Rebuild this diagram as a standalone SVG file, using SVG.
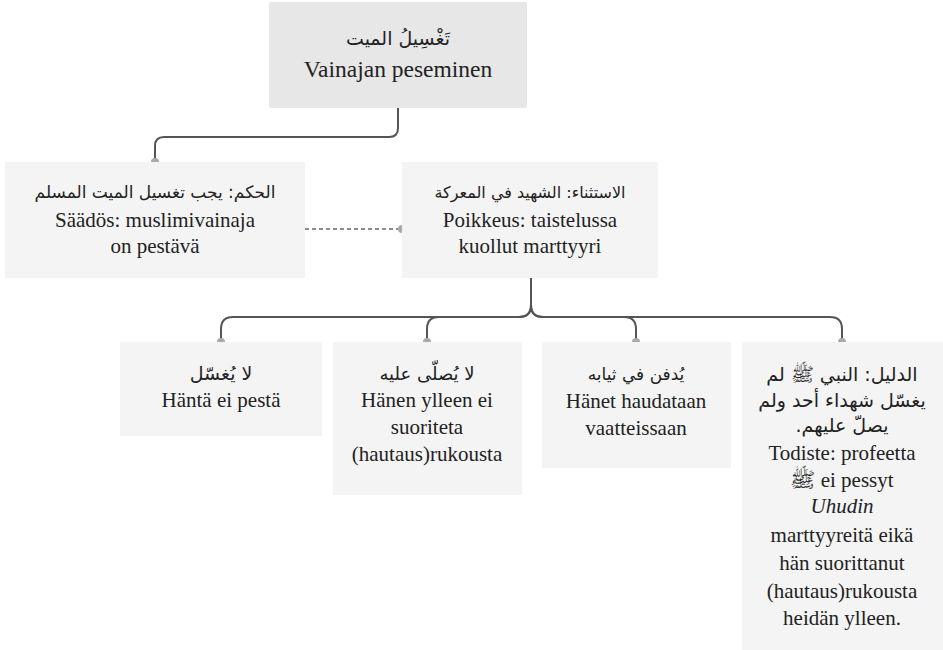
<svg xmlns="http://www.w3.org/2000/svg" width="943" height="650" viewBox="0 0 943 650">
<style>
.root{fill:#e7e7e7}
.box{fill:#f4f4f4}
.t{font-family:'Liberation Serif','Times New Roman',Times,serif;font-size:21px;fill:#222;text-anchor:middle}
.ar{font-family:'DejaVu Sans',sans-serif;font-size:17px;fill:#222;text-anchor:middle;direction:rtl;unicode-bidi:embed}
.ar3{font-size:18px}
.ar4{font-size:19px}
.tr{font-size:23.5px}
.it{font-style:italic}
.c{fill:none;stroke:#555;stroke-width:2}
.dot{fill:#aaa}
</style>
<rect width="943" height="650" fill="#fff"/>
<g id="connectors">
<path class="c" d="M398,108 V128 Q398,137 389,137 H164 Q155,137 155,146 V162"/>
<path class="c" d="M305,229 H398" stroke-dasharray="4,3" style="stroke-width:1.3;stroke:#666"/>
<path class="c" d="M531,278 V305 Q531,317 519,317 H233 Q221,317 221,329 V342"/>
<path class="c" d="M531,278 V305 Q531,317 519,317 H439 Q427,317 427,329 V342"/>
<path class="c" d="M531,278 V305 Q531,317 543,317 H624 Q636,317 636,329 V342"/>
<path class="c" d="M531,278 V305 Q531,317 543,317 H830 Q842,317 842,329 V342"/>
<circle class="dot" cx="155" cy="162" r="4"/>
<circle class="dot" cx="402" cy="229" r="4"/>
<circle class="dot" cx="221" cy="342" r="4"/>
<circle class="dot" cx="427" cy="342" r="4"/>
<circle class="dot" cx="636" cy="342" r="4"/>
<circle class="dot" cx="842" cy="342" r="4"/>
</g>
<g id="root">
<rect class="root" x="269" y="2" width="258" height="106" rx="2"/>
<text class="ar" x="398" y="45" style="font-size:19px">تَغْسِيلُ الميت</text>
<text class="t tr" x="398" y="77">Vainajan peseminen</text>
</g>
<g id="ruling">
<rect class="box" x="5" y="162" width="300" height="116"/>
<text class="ar" x="155" y="198">الحكم: يجب تغسيل الميت المسلم</text>
<text class="t" x="155" y="227">Säädös: muslimivainaja</text>
<text class="t" x="155" y="253">on pestävä</text>
</g>
<g id="exception">
<rect class="box" x="402" y="162" width="256" height="116"/>
<text class="ar" x="530" y="198" style="font-size:16px">الاستثناء: الشهيد في المعركة</text>
<text class="t" x="530" y="227">Poikkeus: taistelussa</text>
<text class="t" x="530" y="253">kuollut marttyyri</text>
</g>
<g id="not-washed">
<rect class="box" x="120" y="342" width="202" height="94"/>
<text class="ar ar4" x="221" y="380">لا يُغسّل</text>
<text class="t" x="221" y="407">Häntä ei pestä</text>
</g>
<g id="no-prayer">
<rect class="box" x="333" y="342" width="189" height="153"/>
<text class="ar ar3" x="427" y="380">لا يُصلّى عليه</text>
<text class="t" x="427" y="407">Hänen ylleen ei</text>
<text class="t" x="427" y="434">suoriteta</text>
<text class="t" x="427" y="461">(hautaus)rukousta</text>
</g>
<g id="buried">
<rect class="box" x="542" y="342" width="189" height="126"/>
<text class="ar" x="636" y="380">يُدفن في ثيابه</text>
<text class="t" x="636" y="408">Hänet haudataan</text>
<text class="t" x="636" y="435">vaatteissaan</text>
</g>
<g id="evidence">
<rect class="box" x="742" y="342" width="201" height="308"/>
<text class="ar ar4" x="842" y="381">الدليل: النبي ﷺ لم</text>
<text class="ar ar4" x="842" y="407">يغسّل شهداء أحد ولم</text>
<text class="ar ar4" x="842" y="432">يصلّ عليهم.</text>
<text class="t" x="842" y="460">Todiste: profeetta</text>
<text class="t" x="842" y="487">ﷺ ei pessyt</text>
<text class="t it" x="842" y="513">Uhudin</text>
<text class="t" x="842" y="542">marttyyreitä eikä</text>
<text class="t" x="842" y="570">hän suorittanut</text>
<text class="t" x="842" y="598">(hautaus)rukousta</text>
<text class="t" x="842" y="625">heidän ylleen.</text>
</g>
</svg>
